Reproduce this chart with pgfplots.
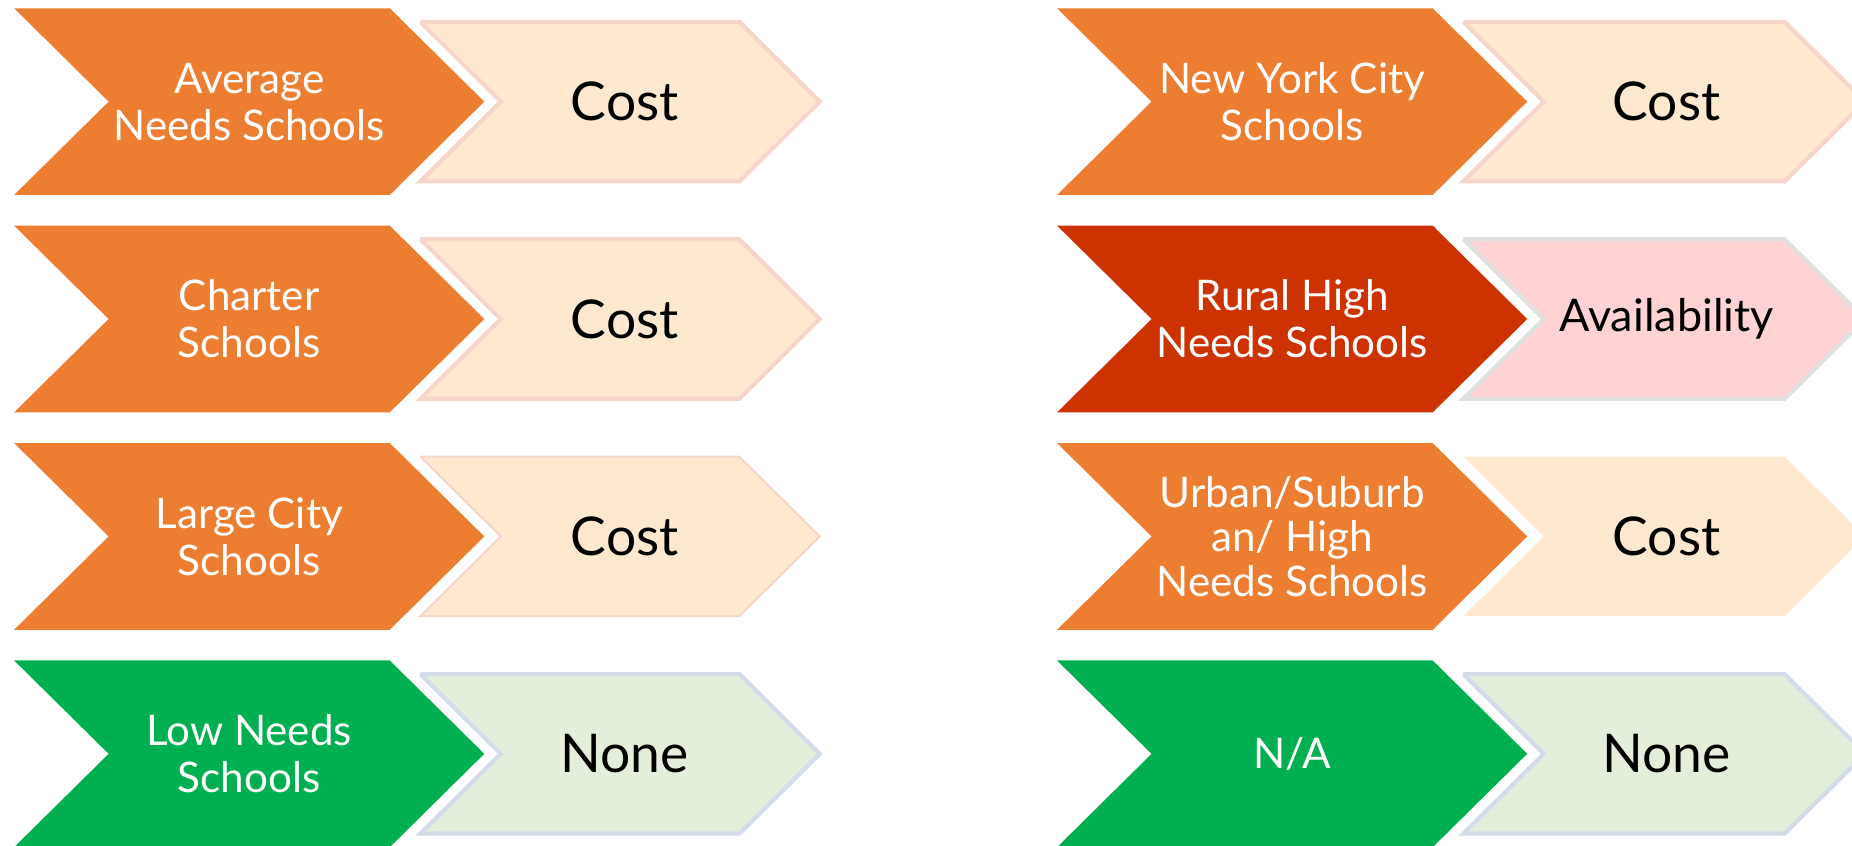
\documentclass[border=0pt]{standalone}
\usepackage{pgfplots}
\pgfplotsset{compat=1.18}
\usepackage{fontspec}
\setmainfont{Lato}
\definecolor{orangeA}{HTML}{ED7D31}
\definecolor{redA}{HTML}{CC3300}
\definecolor{greenA}{HTML}{00B050}
\definecolor{peach}{HTML}{FEE8D0}
\definecolor{peachB}{HTML}{F6D6CA}
\definecolor{pinkL}{HTML}{FFD3D3}
\definecolor{pinkB}{HTML}{E0E0E0}
\definecolor{greenL}{HTML}{E3EFDB}
\definecolor{greenB}{HTML}{D3DDEA}
\begin{document}
\begin{tikzpicture}
\begin{axis}[
  scale only axis, width=18.52cm, height=8.46cm,
  xmin=0, xmax=1568, ymin=0, ymax=716, y dir=reverse,
  hide axis, clip=true,
]
\path (rel axis cs:0,0) rectangle (rel axis cs:1,1);
% ---- left column, big chevrons
\addplot[fill=orangeA, draw=none] coordinates {(12,7) (330,7) (410,86) (330,165) (12,165) (92,86) (12,7)};
\addplot[fill=orangeA, draw=none] coordinates {(12,191) (330,191) (410,270) (330,349) (12,349) (92,270) (12,191)};
\addplot[fill=orangeA, draw=none] coordinates {(12,375) (330,375) (410,454) (330,533) (12,533) (92,454) (12,375)};
\addplot[fill=greenA, draw=none] coordinates {(12,559) (330,559) (410,638) (330,717) (12,717) (92,638) (12,559)};
% ---- left column, light chevrons
\addplot[fill=peach, draw=peachB, line width=1.2pt] coordinates {(356,18.5) (626,18.5) (694,86) (626,153.5) (356,153.5) (424,86) (356,18.5)};
\addplot[fill=peach, draw=peachB, line width=1.2pt] coordinates {(356,202.5) (626,202.5) (694,270) (626,337.5) (356,337.5) (424,270) (356,202.5)};
\addplot[fill=peach, draw=peachB, line width=0.6pt] coordinates {(356,386.5) (626,386.5) (694,454) (626,521.5) (356,521.5) (424,454) (356,386.5)};
\addplot[fill=greenL, draw=greenB, line width=1.2pt] coordinates {(356,570.5) (626,570.5) (694,638) (626,705.5) (356,705.5) (424,638) (356,570.5)};
% ---- right column, big chevrons
\addplot[fill=orangeA, draw=none] coordinates {(895,7) (1213,7) (1293,86) (1213,165) (895,165) (975,86) (895,7)};
\addplot[fill=redA, draw=none] coordinates {(895,191) (1213,191) (1293,270) (1213,349) (895,349) (975,270) (895,191)};
\addplot[fill=orangeA, draw=none] coordinates {(895,375) (1213,375) (1293,454) (1213,533) (895,533) (975,454) (895,375)};
\addplot[fill=greenA, draw=none] coordinates {(895,559) (1213,559) (1293,638) (1213,717) (895,717) (975,638) (895,559)};
% ---- right column, light chevrons
\addplot[fill=peach, draw=peachB, line width=1.2pt] coordinates {(1239,18.5) (1511,18.5) (1579,86) (1511,153.5) (1239,153.5) (1307,86) (1239,18.5)};
\addplot[fill=pinkL, draw=pinkB, line width=1.2pt] coordinates {(1239,202.5) (1511,202.5) (1579,270) (1511,337.5) (1239,337.5) (1307,270) (1239,202.5)};
\addplot[fill=peach, draw=none] coordinates {(1239,386.5) (1511,386.5) (1579,454) (1511,521.5) (1239,521.5) (1307,454) (1239,386.5)};
\addplot[fill=greenL, draw=greenB, line width=1.2pt] coordinates {(1239,570.5) (1511,570.5) (1579,638) (1511,705.5) (1239,705.5) (1307,638) (1239,570.5)};
% ---- labels
\tikzset{bt/.style={text=white, align=center, font=\fontsize{12}{13.4}\selectfont},
         lt/.style={text=black, align=center, font=\fontsize{15.2}{17}\selectfont}}
\node[bt] at (axis cs:211,86) {Average\\Needs Schools};
\node[bt] at (axis cs:211,270) {Charter\\Schools};
\node[bt] at (axis cs:211,454) {Large City\\Schools};
\node[bt] at (axis cs:211,638) {Low Needs\\Schools};
\node[lt] at (axis cs:529,86) {Cost};
\node[lt] at (axis cs:529,270) {Cost};
\node[lt] at (axis cs:529,454) {Cost};
\node[lt] at (axis cs:529,638) {None};
\node[bt] at (axis cs:1094,86) {New York City\\Schools};
\node[bt] at (axis cs:1094,270) {Rural High\\Needs Schools};
\node[bt, font=\fontsize{12}{12.6}\selectfont] at (axis cs:1094,454) {Urban/Suburb\\an/ High\\Needs Schools};
\node[bt] at (axis cs:1094,638) {N/A};
\node[lt] at (axis cs:1411,86) {Cost};
\node[lt, font=\fontsize{12.8}{14}\selectfont] at (axis cs:1411,270) {Availability};
\node[lt] at (axis cs:1411,454) {Cost};
\node[lt] at (axis cs:1411,638) {None};
\end{axis}
\end{tikzpicture}
\end{document}
